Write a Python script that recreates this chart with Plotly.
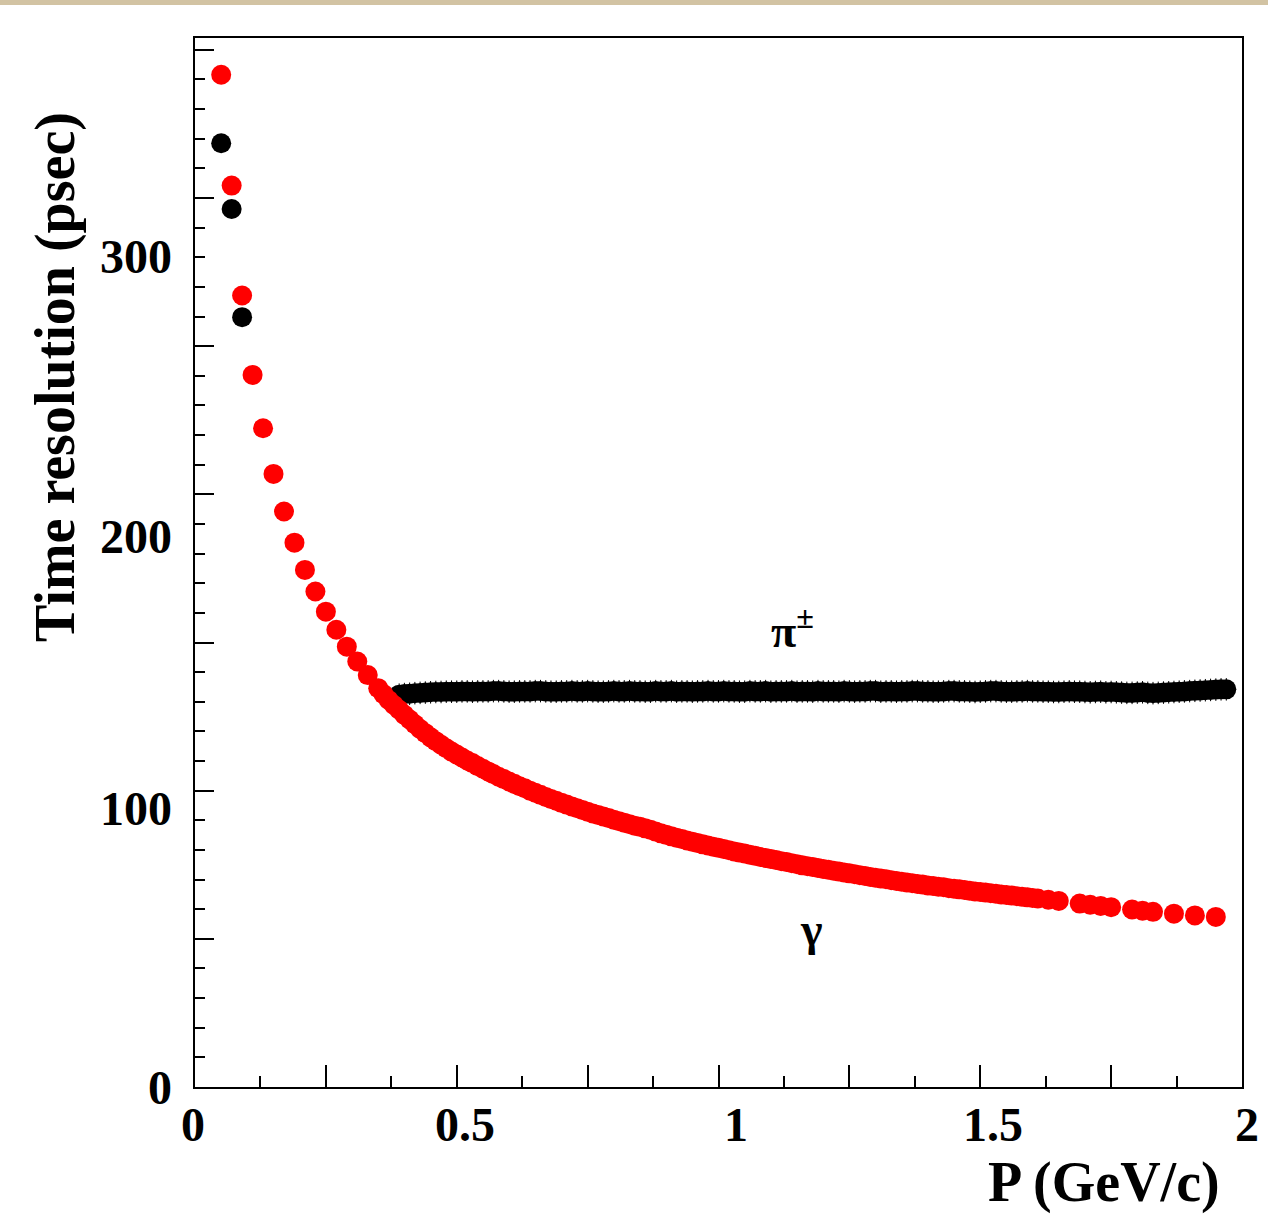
import plotly.graph_objects as go

# ---------------- data ----------------
# gamma: coarse points (odd hundredths)
gamma_p = [0.05, 0.07, 0.09, 0.11, 0.13, 0.15, 0.17, 0.19, 0.21, 0.23,
           0.25, 0.27, 0.29, 0.31, 0.33, 0.35, 0.37, 0.39, 0.41, 0.43,
           0.45, 0.47, 0.49, 0.51, 0.53, 0.55, 0.57, 0.59, 0.61, 0.63,
           0.65, 0.67, 0.69, 0.71, 0.73, 0.75, 0.77, 0.79, 0.81, 0.83,
           0.85, 0.87, 0.89, 0.91, 0.93, 0.95, 0.97, 0.99, 1.01, 1.03,
           1.05, 1.07, 1.09, 1.11, 1.13, 1.15, 1.17, 1.19, 1.21, 1.23,
           1.25, 1.27, 1.29, 1.31, 1.33, 1.35, 1.37, 1.39, 1.41, 1.43,
           1.45, 1.47, 1.49, 1.51, 1.53, 1.55, 1.57, 1.59, 1.61, 1.63,
           1.65, 1.69, 1.71, 1.73, 1.75, 1.79, 1.81, 1.83, 1.87, 1.91,
           1.95]
gamma_t = [341.6, 304.2, 267.1, 240.3, 222.3, 206.9, 194.2, 183.7, 174.5, 167.2,
           160.4, 154.3, 148.6, 143.6, 139.0, 134.6, 130.6, 127.3, 124.0, 120.8,
           118.0, 115.5, 113.2, 111.2, 109.3, 107.4, 105.6, 103.9, 102.3, 100.8,
           99.3, 97.9, 96.6, 95.3, 94.1, 92.9, 91.8, 90.8, 89.7, 88.7,
           87.8, 86.8, 85.6, 84.6, 83.7, 82.8, 81.9, 81.1, 80.3, 79.5,
           78.8, 78.0, 77.3, 76.6, 75.9, 75.2, 74.5, 73.9, 73.3, 72.7,
           72.1, 71.5, 70.9, 70.4, 69.8, 69.3, 68.8, 68.3, 67.8, 67.4,
           66.9, 66.5, 66.0, 65.6, 65.2, 64.8, 64.4, 64.0, 63.6, 63.2,
           62.8, 61.9, 61.5, 61.1, 60.7, 59.9, 59.5, 59.1, 58.5, 57.9,
           57.4]
# gamma: dense band points (even hundredths)
gamma_p_band = [0.36, 0.38, 0.40, 0.42, 0.44, 0.46, 0.48, 0.50, 0.52, 0.54,
                0.56, 0.58, 0.60, 0.62, 0.64, 0.66, 0.68, 0.70, 0.72, 0.74,
                0.76, 0.78, 0.80, 0.82, 0.84, 0.86, 0.88, 0.90, 0.92, 0.94,
                0.96, 0.98, 1.00, 1.02, 1.04, 1.06, 1.08, 1.10, 1.12, 1.14,
                1.16, 1.18, 1.20, 1.22, 1.24, 1.26, 1.28, 1.30, 1.32, 1.34,
                1.36, 1.38, 1.40, 1.42, 1.44, 1.46, 1.48, 1.50, 1.52, 1.54,
                1.56, 1.58, 1.60]
gamma_t_band = [132.6, 128.9, 125.6, 122.4, 119.4, 116.7, 114.3, 112.2, 110.2, 108.3,
                106.5, 104.7, 103.1, 101.5, 100.0, 98.6, 97.2, 95.9, 94.7, 93.5,
                92.3, 91.3, 90.2, 89.2, 88.2, 87.3, 86.2, 85.1, 84.1, 83.2,
                82.3, 81.5, 80.7, 79.9, 79.1, 78.4, 77.6, 76.9, 76.2, 75.5,
                74.8, 74.2, 73.6, 73.0, 72.4, 71.8, 71.2, 70.6, 70.1, 69.5,
                69.0, 68.5, 68.0, 67.6, 67.1, 66.7, 66.2, 65.8, 65.4, 65.0,
                64.6, 64.2, 63.8]

pion_p = [0.05, 0.07, 0.09,
          0.39, 0.41, 0.43, 0.45, 0.47, 0.49, 0.51, 0.53, 0.55, 0.57,
          0.59, 0.61, 0.63, 0.65, 0.67, 0.69, 0.71, 0.73, 0.75, 0.77,
          0.79, 0.81, 0.83, 0.85, 0.87, 0.89, 0.91, 0.93, 0.95, 0.97,
          0.99, 1.01, 1.03, 1.05, 1.07, 1.09, 1.11, 1.13, 1.15, 1.17,
          1.19, 1.21, 1.23, 1.25, 1.27, 1.29, 1.31, 1.33, 1.35, 1.37,
          1.39, 1.41, 1.43, 1.45, 1.47, 1.49, 1.51, 1.53, 1.55, 1.57,
          1.59, 1.61, 1.63, 1.65, 1.67, 1.69, 1.71, 1.73, 1.75, 1.77,
          1.79, 1.81, 1.83, 1.85, 1.87, 1.89, 1.91, 1.93, 1.95, 1.97]
pion_t = [318.5, 296.3, 259.8,
          132.4, 132.7, 133.0, 133.2, 133.3, 133.4, 133.5, 133.4, 133.5, 133.6,
          133.5, 133.4, 133.5, 133.6, 133.5, 133.4, 133.5, 133.5, 133.6, 133.4,
          133.5, 133.5, 133.6, 133.5, 133.4, 133.5, 133.6, 133.5, 133.4, 133.5,
          133.5, 133.6, 133.5, 133.4, 133.5, 133.6, 133.5, 133.5, 133.4, 133.5,
          133.6, 133.5, 133.4, 133.5, 133.5, 133.6, 133.4, 133.5, 133.5, 133.6,
          133.5, 133.4, 133.5, 133.6, 133.5, 133.3, 133.5, 133.6, 133.4, 133.5,
          133.6, 133.5, 133.4, 133.3, 133.5, 133.4, 133.2, 133.4, 133.3, 133.1,
          133.0, 133.2, 132.9, 133.1, 133.3, 133.5, 133.7, 133.9, 134.1, 134.2]
pion_p_band = [0.40, 0.42, 0.44, 0.46, 0.48, 0.50, 0.52, 0.54, 0.56, 0.58,
               0.60, 0.62, 0.64, 0.66, 0.68, 0.70, 0.72, 0.74, 0.76, 0.78,
               0.80, 0.82, 0.84, 0.86, 0.88, 0.90, 0.92, 0.94, 0.96, 0.98,
               1.00, 1.02, 1.04, 1.06, 1.08, 1.10, 1.12, 1.14, 1.16, 1.18,
               1.20, 1.22, 1.24, 1.26, 1.28, 1.30, 1.32, 1.34, 1.36, 1.38,
               1.40, 1.42, 1.44, 1.46, 1.48, 1.50, 1.52, 1.54, 1.56, 1.58,
               1.60, 1.62, 1.64, 1.66, 1.68, 1.70, 1.72, 1.74, 1.76, 1.78,
               1.80, 1.82, 1.84, 1.86, 1.88, 1.90, 1.92, 1.94, 1.96]
pion_t_band = [132.6, 132.9, 133.1, 133.3, 133.4, 133.4, 133.5, 133.5, 133.5, 133.6,
               133.4, 133.5, 133.5, 133.6, 133.4, 133.5, 133.6, 133.5, 133.5, 133.4,
               133.6, 133.5, 133.5, 133.4, 133.6, 133.5, 133.4, 133.5, 133.5, 133.6,
               133.5, 133.5, 133.4, 133.6, 133.5, 133.4, 133.5, 133.6, 133.5, 133.4,
               133.5, 133.5, 133.6, 133.4, 133.5, 133.6, 133.5, 133.4, 133.5, 133.6,
               133.5, 133.4, 133.6, 133.5, 133.4, 133.4, 133.6, 133.5, 133.4, 133.5,
               133.5, 133.4, 133.3, 133.4, 133.4, 133.3, 133.3, 133.2, 133.2, 133.0,
               133.1, 133.0, 133.0, 133.2, 133.4, 133.6, 133.8, 134.0, 134.2]

x_tick_vals = [0, 0.5, 1, 1.5, 2]
x_tick_text = ["0", "0.5", "1", "1.5", "2"]
y_tick_vals = [0, 100, 200, 300]
y_tick_text = ["0", "100", "200", "300"]

# ---------------- style / layout ----------------
FONT = "Liberation Serif"
MSIZE = 20
x_label_shift = [-2, 8, 17, 13, 5]      # px offsets of the printed labels
y_label_shift = [0, -18, -42, -58]

pion_x = pion_p + pion_p_band
pion_y = pion_t + pion_t_band
pion_err = [1.5] * 3 + [3.8] * (len(pion_x) - 3)

fig = go.Figure()

fig.add_trace(go.Scatter(
    x=pion_x, y=pion_y, mode="markers", name="pi",
    marker=dict(size=MSIZE, color="black", line=dict(width=0)),
    error_y=dict(type="data", array=pion_err, visible=True,
                 color="black", thickness=1, width=0),
    showlegend=False, cliponaxis=False,
))
fig.add_trace(go.Scatter(
    x=gamma_p + gamma_p_band, y=gamma_t + gamma_t_band, mode="markers",
    name="gamma",
    marker=dict(size=MSIZE, color="#ff0000", line=dict(width=0)),
    showlegend=False, cliponaxis=False,
))

annotations = []
for v, t, s in zip(x_tick_vals, x_tick_text, x_label_shift):
    annotations.append(dict(
        x=v, y=0, xref="x", yref="paper", text=t, showarrow=False,
        xanchor="center", yanchor="top", xshift=s, yshift=-9,
        font=dict(family=FONT, size=48, color="black", weight="bold")))
for v, t, s in zip(y_tick_vals, y_tick_text, y_label_shift):
    annotations.append(dict(
        x=0, y=v, xref="paper", yref="y", text=t, showarrow=False,
        xanchor="right", yanchor="middle", xshift=-21, yshift=s,
        font=dict(family=FONT, size=48, color="black", weight="bold")))

annotations += [
    dict(x=0, y=1, xref="paper", yref="paper", text="Time resolution (psec)",
         textangle=-90, showarrow=False, xanchor="center", yanchor="top",
         xshift=-140, yshift=-72,
         font=dict(family=FONT, size=56, color="black", weight="bold")),
    dict(x=1, y=0, xref="paper", yref="paper", text="P (GeV/c)",
         showarrow=False, xanchor="right", yanchor="middle",
         xshift=-20, yshift=-95,
         font=dict(family=FONT, size=56, color="black", weight="bold")),
    dict(x=1.142, y=155, xref="x", yref="y", text="π<sup>±</sup>",
         showarrow=False, xanchor="center", yanchor="middle",
         font=dict(family=FONT, size=46, color="black", weight="bold")),
    dict(x=1.177, y=53, xref="x", yref="y", text="γ",
         showarrow=False, xanchor="center", yanchor="middle",
         font=dict(family=FONT, size=46, color="black", weight="bold")),
]

fig.update_layout(
    width=1268, height=1217,
    margin=dict(l=195, r=26, t=38, b=130),
    paper_bgcolor="white", plot_bgcolor="white",
    annotations=annotations,
    shapes=[dict(type="rect", xref="paper", yref="paper",
                 x0=-0.3, x1=1.1, y0=1.0315, y1=1.06,
                 fillcolor="#d2c3a3", line=dict(width=0), layer="above")],
)

fig.update_xaxes(
    range=[0, 2], showgrid=False, zeroline=False,
    showline=True, linecolor="black", linewidth=2, mirror=True,
    ticks="inside", tickvals=[0, 0.25, 0.5, 0.75, 1, 1.25, 1.5, 1.75, 2],
    ticklen=22, tickwidth=2, tickcolor="black", showticklabels=False,
    minor=dict(ticks="inside", dtick=0.125, tick0=0, ticklen=11,
               tickwidth=2, tickcolor="black", showgrid=False),
)
fig.update_yaxes(
    range=[0, 354], showgrid=False, zeroline=False,
    showline=True, linecolor="black", linewidth=2, mirror=True,
    ticks="inside", tickvals=[0, 50, 100, 150, 200, 250, 300, 350],
    ticklen=19, tickwidth=2, tickcolor="black", showticklabels=False,
    minor=dict(ticks="inside", dtick=10, tick0=0, ticklen=10,
               tickwidth=2, tickcolor="black", showgrid=False),
)

fig.write_html("out.html")
